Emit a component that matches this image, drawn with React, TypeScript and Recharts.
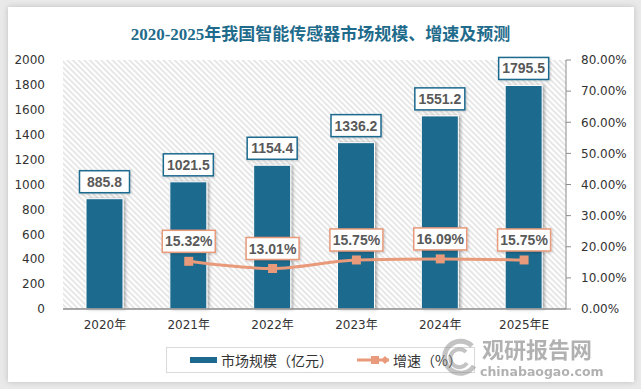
import { ComposedChart, Bar, Line, XAxis, YAxis, CartesianGrid, Legend, LabelList } from 'recharts'

const years = ['2020年', '2021年', '2022年', '2023年', '2024年', '2025年E']
const marketSize = [885.8, 1021.5, 1154.4, 1336.2, 1551.2, 1795.5]
const growthRate = [null, 15.32, 13.01, 15.75, 16.09, 15.75]
const leftTicks = [0, 200, 400, 600, 800, 1000, 1200, 1400, 1600, 1800, 2000]
const rightTicks = [0, 10, 20, 30, 40, 50, 60, 70, 80]

const BAR_COLOR = '#1c6a8e'
const LINE_COLOR = '#e89a7a'
const TITLE_COLOR = '#1f6b8c'
const AXIS_FONT = '"DejaVu Sans", "Noto Sans CJK SC", sans-serif'
const LABEL_FONT = '"Liberation Sans", Arial, sans-serif'

const chartData = years.map((year, i) => ({
  year,
  size: marketSize[i],
  rate: growthRate[i]
}))

const BarLabel = (props: any) => {
  const { x, y, width, value } = props
  if (value == null) return null
  const cx = x + width / 2
  const w = 50
  const h = 22
  const top = y - 6 - h
  return (
    <g>
      <rect x={cx - w / 2} y={top} width={w} height={h} fill="#fff" stroke={BAR_COLOR} strokeWidth={1.5} filter="url(#boxShadow)" />
      <text x={cx} y={top + h / 2 + 5} textAnchor="middle" fontFamily={LABEL_FONT} fontWeight="bold" fontSize={14} fill="#595959">
        {value.toFixed(1)}
      </text>
    </g>
  )
}

const RateLabel = (props: any) => {
  const { x, y, value } = props
  if (value == null) return null
  const w = 53
  const h = 22
  const top = y - 9 - h
  return (
    <g>
      <rect x={x - w / 2} y={top} width={w} height={h} fill="#fff" stroke={LINE_COLOR} strokeWidth={1.5} filter="url(#boxShadow)" />
      <text x={x} y={top + h / 2 + 5} textAnchor="middle" fontFamily={LABEL_FONT} fontWeight="bold" fontSize={14} fill="#595959">
        {value.toFixed(2)}%
      </text>
    </g>
  )
}

const SquareDot = (props: any) => {
  const { cx, cy, value } = props
  if (value == null || cx == null || cy == null) return null
  return <rect x={cx - 4.5} y={cy - 4.5} width={9} height={9} fill={LINE_COLOR} />
}

const renderLegend = () => (
  <div style={{ display: 'flex', justifyContent: 'center', height: 34 }}>
    <div
      style={{
        marginTop: 8,
        width: 307,
        height: 24,
        border: '1px solid #d9d9d9',
        display: 'flex',
        alignItems: 'center',
        fontFamily: '"Noto Sans CJK SC", sans-serif',
        fontSize: 14,
        color: '#333'
      }}
    >
      <span style={{ display: 'inline-block', width: 27, height: 6, background: BAR_COLOR, marginLeft: 23, marginRight: 4 }} />
      <span>市场规模（亿元）</span>
      <svg width={34} height={12} style={{ marginLeft: 24, marginRight: 2 }}>
        <line x1={0} y1={6} x2={32} y2={6} stroke={LINE_COLOR} strokeWidth={3} />
        <rect x={14} y={2} width={8} height={8} fill={LINE_COLOR} />
        <polygon points="28,2 32,6 28,10 24,6" fill={LINE_COLOR} />
      </svg>
      <span>增速（%）</span>
    </div>
  </div>
)

export default function App() {
  return (
    <div style={{ position: 'absolute', left: 0, top: 0, width: 641, height: 389, background: '#e9e9e9', overflow: 'hidden' }}>
      <div
        style={{
          position: 'absolute',
          left: 8,
          top: 7,
          width: 626,
          height: 375,
          background: '#fff',
          boxShadow: '0 0 6px rgba(0,0,0,0.18)'
        }}
      />
      <div
        style={{
          position: 'absolute',
          left: 0,
          top: 20,
          width: 641,
          textAlign: 'center',
          fontFamily: '"Liberation Serif", "Noto Sans CJK SC", serif',
          fontWeight: 'bold',
          fontSize: 17,
          color: TITLE_COLOR
        }}
      >
        2020-2025年我国智能传感器市场规模、增速及预测
      </div>
      <div style={{ position: 'absolute', left: 0, top: 0 }}>
        <ComposedChart width={641} height={389} data={chartData} margin={{ top: 60, right: 0, bottom: 16, left: 0 }}>
          <defs>
            <pattern id="hatch" width={4} height={4} patternUnits="userSpaceOnUse" patternTransform="rotate(-45)">
              <rect width={4} height={4} fill="#fff" />
              <line x1={1} y1={0} x2={1} y2={4} stroke="#d8d8d8" strokeWidth={1.2} />
            </pattern>
            <filter id="barShadow" x="-20%" y="-5%" width="150%" height="110%">
              <feDropShadow dx={2} dy={0} stdDeviation={1.5} floodColor="#000" floodOpacity={0.3} />
            </filter>
            <filter id="boxShadow" x="-20%" y="-20%" width="140%" height="150%">
              <feDropShadow dx={1} dy={1} stdDeviation={1} floodColor="#000" floodOpacity={0.2} />
            </filter>
          </defs>
          <CartesianGrid fill="url(#hatch)" fillOpacity={1} stroke="none" horizontal={false} vertical={false} />
          <XAxis
            dataKey="year"
            height={30}
            tickLine={false}
            tickSize={6}
            tickMargin={5}
            axisLine={{ stroke: '#8c8c8c', strokeWidth: 1.5 }}
            tick={{ fontFamily: AXIS_FONT, fontSize: 12, fill: '#333' }}
            interval={0}
          />
          <YAxis
            yAxisId="left"
            width={63}
            domain={[0, 2000]}
            ticks={leftTicks}
            axisLine={false}
            tickLine={false}
            tickSize={6}
            tickMargin={12}
            tick={{ fontFamily: AXIS_FONT, fontSize: 12, fill: '#333' }}
          />
          <YAxis
            yAxisId="right"
            orientation="right"
            width={75}
            domain={[0, 80]}
            ticks={rightTicks}
            tickFormatter={(v: number) => `${v.toFixed(2)}%`}
            axisLine={{ stroke: '#8c8c8c' }}
            tickLine={{ stroke: '#8c8c8c' }}
            tickSize={5}
            tickMargin={10}
            tick={{ fontFamily: AXIS_FONT, fontSize: 12, fill: '#333' }}
          />
          <Legend verticalAlign="bottom" content={renderLegend} />
          <Bar
            yAxisId="left"
            dataKey="size"
            name="市场规模（亿元）"
            fill={BAR_COLOR}
            stroke="#fff"
            strokeWidth={1}
            barSize={37}
            filter="url(#barShadow)"
            isAnimationActive={false}
          >
            <LabelList dataKey="size" content={BarLabel} />
          </Bar>
          <Line
            yAxisId="right"
            type="monotone"
            dataKey="rate"
            name="增速（%）"
            stroke={LINE_COLOR}
            strokeWidth={3}
            dot={<SquareDot />}
            activeDot={false}
            connectNulls={false}
            isAnimationActive={false}
          >
            <LabelList dataKey="rate" content={RateLabel} />
          </Line>
        </ComposedChart>
      </div>
      <div style={{ position: 'absolute', left: 440, top: 336, width: 160, height: 46, opacity: 0.5 }}>
        <svg width={40} height={44} style={{ position: 'absolute', left: 0, top: 0 }}>
          <path d="M 32 10 A 16 16 0 1 0 34 30" fill="none" stroke="#888" strokeWidth={5} />
          <path d="M 26 16 A 9 9 0 1 0 27 27" fill="none" stroke="#888" strokeWidth={4} />
        </svg>
        <div style={{ position: 'absolute', left: 42, top: 0, lineHeight: '24px', fontFamily: '"Noto Sans CJK SC", sans-serif', fontWeight: 'bold', fontSize: 22, color: '#666' }}>
          观研报告网
        </div>
        <div style={{ position: 'absolute', left: 40, top: 28, lineHeight: '15px', fontFamily: '"DejaVu Sans", sans-serif', fontWeight: 'bold', fontSize: 12.5, color: '#666' }}>
          chinabaogao.com
        </div>
      </div>
    </div>
  )
}
